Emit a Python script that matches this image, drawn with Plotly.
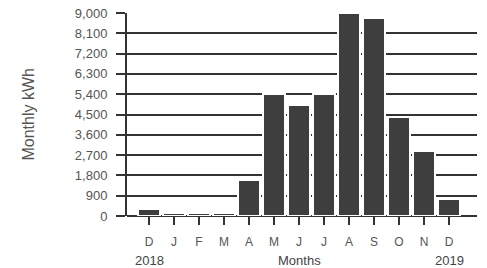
import plotly.graph_objects as go

months = ["D", "J", "F", "M", "A", "M", "J", "J", "A", "S", "O", "N", "D"]
kwh = [300, 130, 130, 130, 1600, 5400, 4900, 5400, 9000, 8800, 4400, 2900, 750]
y_ticks = [0, 900, 1800, 2700, 3600, 4500, 5400, 6300, 7200, 8100, 9000]
years = ["2018", "2019"]

x_pos = list(range(len(months)))

fig = go.Figure()
fig.add_trace(go.Bar(
    x=x_pos, y=kwh, width=0.88,
    marker=dict(color="#3e3e3e", line=dict(color="white", width=2)),
))

font = "Liberation Sans, Arial, sans-serif"
fig.update_layout(
    width=487, height=268,
    margin=dict(l=127, r=10, t=13, b=52, autoexpand=False),
    paper_bgcolor="white", plot_bgcolor="white",
    showlegend=False,
    font=dict(family=font, color="#444"),
    bargap=0,
)
fig.update_xaxes(
    range=[-0.88, 13.12], automargin=False,
    tickvals=x_pos, ticktext=months,
    ticks="outside", ticklen=8, tickwidth=2, tickcolor="#333",
    tickfont=dict(size=12, color="#555"),
    ticklabelstandoff=7,
    showgrid=False, zeroline=False,
    showline=False,
)
fig.update_yaxes(
    range=[0, 9000], automargin=False,
    tickvals=y_ticks, tickformat=",",
    ticks="outside", ticklen=9, tickwidth=2, tickcolor="#333",
    tickfont=dict(size=13, color="#555"),
    ticklabelstandoff=6,
    showgrid=True, gridcolor="#333", gridwidth=2,
    zeroline=True, zerolinecolor="#333", zerolinewidth=2,
    showline=True, linecolor="#333", linewidth=2,
)

fig.add_annotation(text="Monthly kWh", xref="paper", yref="paper", x=0, y=0.5,
                   xshift=-99, xanchor="center", yanchor="middle",
                   textangle=-90, showarrow=False,
                   font=dict(size=16, color="#555", family=font))
for label, xv in [(years[0], 0), ("Months", 6), (years[1], 12)]:
    fig.add_annotation(text=label, xref="x", yref="paper", x=xv, y=0, yshift=-44,
                       yanchor="middle", showarrow=False,
                       font=dict(size=13, color="#444", family=font))

fig.write_html("out.html", config={"displayModeBar": False},
               post_script="document.body.style.margin='0';")
